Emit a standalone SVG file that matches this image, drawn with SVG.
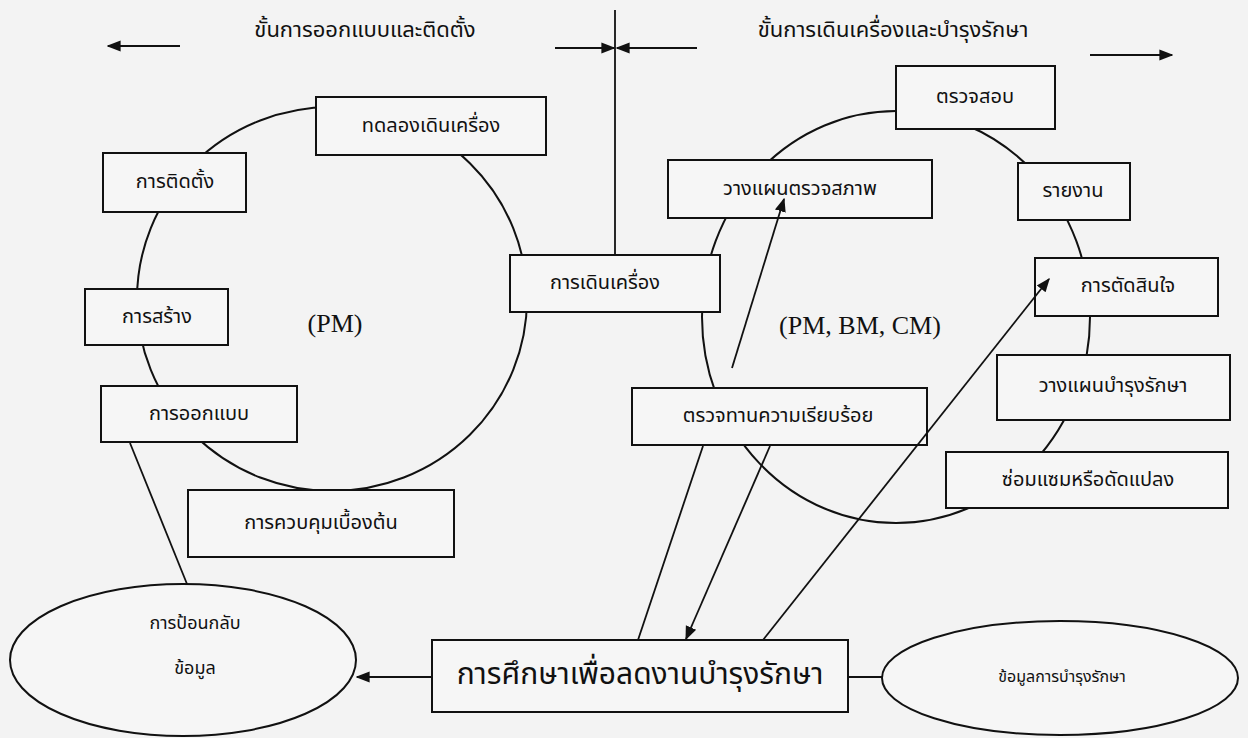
<svg xmlns="http://www.w3.org/2000/svg" width="1248" height="738" viewBox="0 0 1248 738">
<style>
.bg{fill:#f3f3f3}
.box{fill:#f6f6f6;stroke:#111;stroke-width:2}
.ring{fill:none;stroke:#111;stroke-width:2}
.ln{fill:none;stroke:#111;stroke-width:1.8}
.t{font-family:"Noto Sans Thai","Noto Serif Thai","Loma","Garuda","Norasi","DejaVu Sans","Noto Sans",sans-serif;font-size:20px;fill:#111;text-anchor:middle;dominant-baseline:central}
.big{font-size:30px}
.hd{font-size:22px}
.sm{font-size:16px}
.md{font-size:18px}
.lat{font-family:"Liberation Serif","Times New Roman",serif;font-size:26px;fill:#111;text-anchor:middle;dominant-baseline:central}
</style>
<defs>
<marker id="ahs" viewBox="0 0 10 10" refX="9" refY="5" markerWidth="14" markerHeight="14" markerUnits="userSpaceOnUse" orient="auto">
<path d="M0,1 L10,5 L0,9 z" fill="#111"/>
</marker>
</defs>
<rect class="bg" x="0" y="0" width="1248" height="738"/>

<g id="cycles">
<ellipse class="ring" cx="332" cy="299" rx="195" ry="192"/>
<ellipse class="ring" cx="896" cy="317" rx="194" ry="206"/>
</g>

<text class="t hd" x="365" y="30">ขั้นการออกแบบและติดตั้ง</text>
<text class="t hd" x="893" y="30">ขั้นการเดินเครื่องและบำรุงรักษา</text>
<text class="lat" x="335" y="323">(PM)</text>
<text class="lat" x="860" y="325">(PM, BM, CM)</text>

<g id="n-test"><rect class="box" x="316" y="97" width="230" height="58"/><text class="t" x="431" y="126">ทดลองเดินเครื่อง</text></g>
<g id="n-install"><rect class="box" x="103" y="153" width="143" height="59"/><text class="t" x="175" y="182">การติดตั้ง</text></g>
<g id="n-build"><rect class="box" x="85" y="289" width="143" height="56"/><text class="t" x="157" y="317">การสร้าง</text></g>
<g id="n-design"><rect class="box" x="101" y="386" width="196" height="56"/><text class="t" x="199" y="414">การออกแบบ</text></g>
<g id="n-control"><rect class="box" x="188" y="490" width="266" height="67"/><text class="t" x="321" y="523">การควบคุมเบื้องต้น</text></g>
<g id="n-operate"><rect class="box" x="510" y="255" width="210" height="57"/><text class="t" x="605" y="283">การเดินเครื่อง</text></g>
<g id="n-inspect"><rect class="box" x="896" y="66" width="159" height="63"/><text class="t" x="975" y="97">ตรวจสอบ</text></g>
<g id="n-plan-check"><rect class="box" x="668" y="160" width="264" height="58"/><text class="t" x="800" y="189">วางแผนตรวจสภาพ</text></g>
<g id="n-report"><rect class="box" x="1018" y="163" width="112" height="57"/><text class="t" x="1073" y="191">รายงาน</text></g>
<g id="n-decide"><rect class="box" x="1035" y="258" width="183" height="58"/><text class="t" x="1128" y="286">การตัดสินใจ</text></g>
<g id="n-plan-maint"><rect class="box" x="997" y="355" width="233" height="65"/><text class="t" x="1113" y="386">วางแผนบำรุงรักษา</text></g>
<g id="n-review"><rect class="box" x="632" y="388" width="295" height="57"/><text class="t" x="778" y="416">ตรวจทานความเรียบร้อย</text></g>
<g id="n-repair"><rect class="box" x="946" y="452" width="282" height="56"/><text class="t" x="1088" y="480">ซ่อมแซมหรือดัดแปลง</text></g>
<g id="n-study"><rect class="box" x="432" y="640" width="416" height="72"/><text class="t big" x="640" y="675">การศึกษาเพื่อลดงานบำรุงรักษา</text></g>
<g id="n-feedback"><ellipse class="box" cx="183" cy="660" rx="173" ry="76"/><text class="t md" x="195" y="623">การป้อนกลับ</text><text class="t md" x="195" y="668">ข้อมูล</text></g>
<g id="n-data"><ellipse class="box" cx="1060" cy="678" rx="178" ry="57"/><text class="t sm" x="1062" y="677">ข้อมูลการบำรุงรักษา</text></g>

<g id="connectors">
<line class="ln" x1="180" y1="46" x2="108" y2="46" marker-end="url(#ahs)"/>
<line class="ln" x1="615" y1="10" x2="615" y2="255"/>
<line class="ln" x1="555" y1="48" x2="614" y2="48" marker-end="url(#ahs)"/>
<line class="ln" x1="697" y1="48" x2="617" y2="48" marker-end="url(#ahs)"/>
<line class="ln" x1="1090" y1="55" x2="1172" y2="55" marker-end="url(#ahs)"/>
<line class="ln" x1="130" y1="443" x2="187" y2="584"/>
<line class="ln" x1="703" y1="446" x2="638" y2="640"/>
<line class="ln" x1="770" y1="446" x2="686" y2="639" marker-end="url(#ahs)"/>
<line class="ln" x1="763" y1="640" x2="1049" y2="279" marker-end="url(#ahs)"/>
<line class="ln" x1="732" y1="368" x2="784" y2="199" marker-end="url(#ahs)"/>
<line class="ln" x1="432" y1="677" x2="357" y2="677" marker-end="url(#ahs)"/>
<line class="ln" x1="848" y1="677" x2="882" y2="677"/>
</g>
</svg>
